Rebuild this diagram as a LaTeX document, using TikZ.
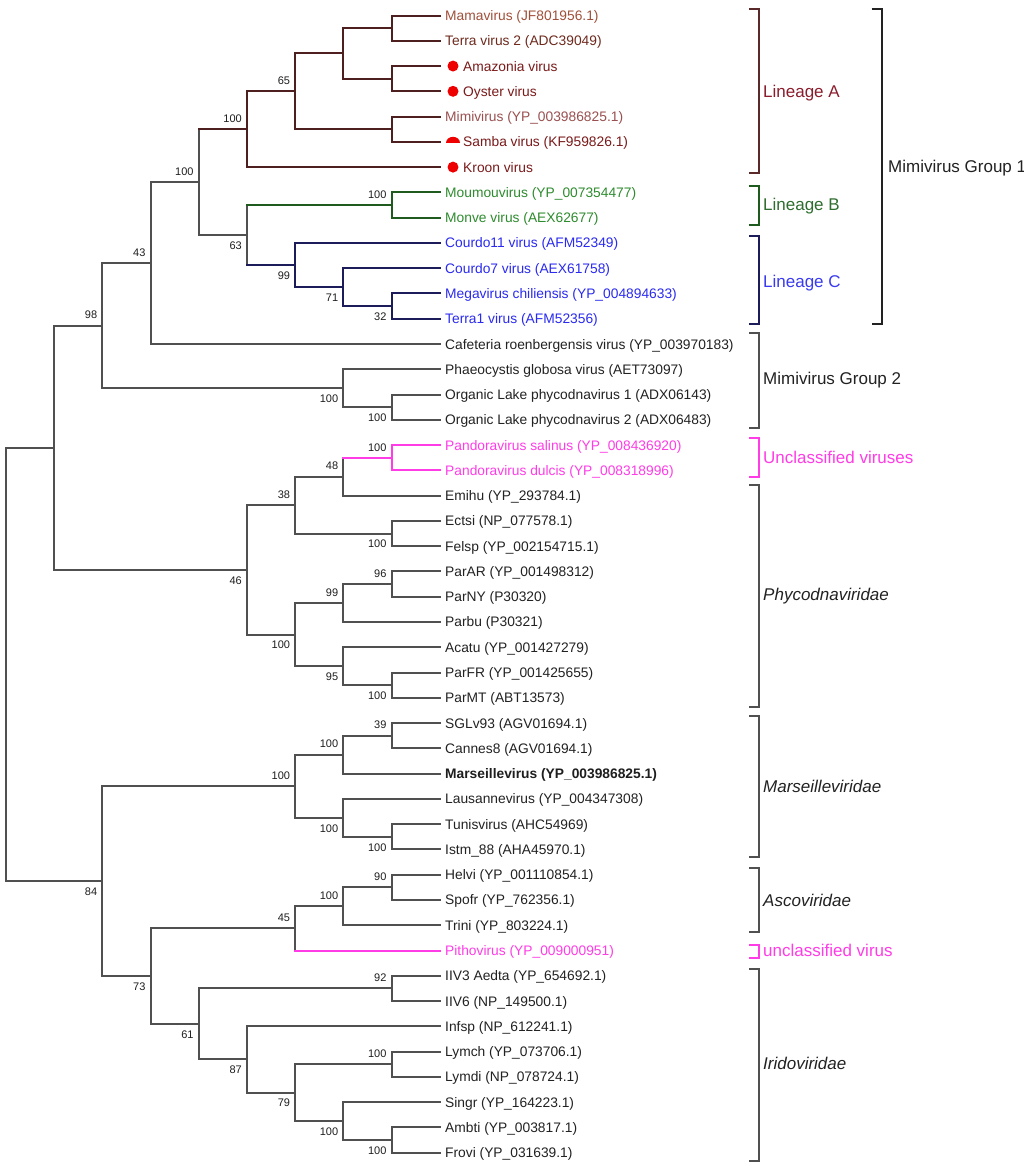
\documentclass[tikz,border=0pt]{standalone}
\usepackage{fontspec}
\setmainfont{Liberation Sans}
\usetikzlibrary{calc}
\definecolor{brA}{HTML}{4D1F1F}
\definecolor{brB}{HTML}{1F5A1F}
\definecolor{brC}{HTML}{1C1C5A}
\definecolor{brG}{HTML}{505050}
\definecolor{pk}{HTML}{FF3CE6}
\definecolor{tMama}{HTML}{A0503A}
\definecolor{tTerra}{HTML}{6E2A1E}
\definecolor{tRed}{HTML}{7A1A1A}
\definecolor{tMimi}{HTML}{9A5050}
\definecolor{tGreen}{HTML}{2E8B2E}
\definecolor{tBlue}{HTML}{2A2AF0}
\definecolor{tBlk}{HTML}{222222}
\definecolor{dotred}{HTML}{EE0000}
\definecolor{labA}{HTML}{8B1C2C}
\definecolor{labB}{HTML}{2E6E2E}
\definecolor{labC}{HTML}{3A3AEE}
\definecolor{bsc}{HTML}{1E1E1E}
\definecolor{brkA}{HTML}{5A2A2A}
\newcommand\leafx[4]{%
  \coordinate (l#1) at (439.8,{15.5+25.27*#1});
  \node[leaf,text=#3] (lab#1) at (#2,{20.5+25.27*#1}) {#4};}
\newcommand\clade[5]{%
  \path let \p1=(#3), \p2=(#4) in coordinate (#1) at (#2pt,{0.5*\y1+0.5*\y2});
  \draw[br,#5] (#3 -| #1) -- (#4 -| #1);}
\newcommand\hb[3]{\draw[br,#3] (#1 -| #2) -- (#1);}
\newcommand\bsa[2]{\node[bs,anchor=east] (bs#1) at ($(#1)+(-5,-10.5)$) {#2};}
\newcommand\bsb[2]{\node[bs,anchor=east] (bs#1) at ($(#1)+(-5,10.5)$) {#2};}
\newcommand\grpbrack[5]{\draw[brk,#5] ({#2-10},#3) coordinate (#1) -- (#2,#3) -- (#2,#4) -- ({#2-10},#4);}
\begin{document}
\begin{tikzpicture}[x=1pt,y=-1pt,
  br/.style={line width=2pt,line cap=rect},
  brk/.style={line width=1.7pt},
  leaf/.style={anchor=base west,inner sep=0pt,font=\fontsize{13.8}{15}\selectfont},
  bs/.style={inner sep=0pt,text=bsc,font=\fontsize{11}{12}\selectfont},
  grp/.style={anchor=base west,inner sep=0pt,font=\fontsize{17}{19}\selectfont}]
\useasboundingbox[fill=white] (0,0) rectangle (1024,1167);
% leaves
\leafx{0}{445}{tMama}{Mamavirus (JF801956.1)}
\leafx{1}{445}{tTerra}{Terra virus 2 (ADC39049)}
\leafx{2}{463}{tRed}{Amazonia virus}
\leafx{3}{463}{tRed}{Oyster virus}
\leafx{4}{445}{tMimi}{Mimivirus (YP\_003986825.1)}
\leafx{5}{463}{tRed}{Samba virus (KF959826.1)}
\leafx{6}{463}{tRed}{Kroon virus}
\leafx{7}{445}{tGreen}{Moumouvirus (YP\_007354477)}
\leafx{8}{445}{tGreen}{Monve virus (AEX62677)}
\leafx{9}{445}{tBlue}{Courdo11 virus (AFM52349)}
\leafx{10}{445}{tBlue}{Courdo7 virus (AEX61758)}
\leafx{11}{445}{tBlue}{Megavirus chiliensis (YP\_004894633)}
\leafx{12}{445}{tBlue}{Terra1 virus (AFM52356)}
\leafx{13}{445}{tBlk}{Cafeteria roenbergensis virus (YP\_003970183)}
\leafx{14}{445}{tBlk}{Phaeocystis globosa virus (AET73097)}
\leafx{15}{445}{tBlk}{Organic Lake phycodnavirus 1 (ADX06143)}
\leafx{16}{445}{tBlk}{Organic Lake phycodnavirus 2 (ADX06483)}
\leafx{17}{445}{pk}{Pandoravirus salinus (YP\_008436920)}
\leafx{18}{445}{pk}{Pandoravirus dulcis (YP\_008318996)}
\leafx{19}{445}{tBlk}{Emihu (YP\_293784.1)}
\leafx{20}{445}{tBlk}{Ectsi (NP\_077578.1)}
\leafx{21}{445}{tBlk}{Felsp (YP\_002154715.1)}
\leafx{22}{445}{tBlk}{ParAR (YP\_001498312)}
\leafx{23}{445}{tBlk}{ParNY (P30320)}
\leafx{24}{445}{tBlk}{Parbu (P30321)}
\leafx{25}{445}{tBlk}{Acatu (YP\_001427279)}
\leafx{26}{445}{tBlk}{ParFR (YP\_001425655)}
\leafx{27}{445}{tBlk}{ParMT (ABT13573)}
\leafx{28}{445}{tBlk}{SGLv93 (AGV01694.1)}
\leafx{29}{445}{tBlk}{Cannes8 (AGV01694.1)}
\leafx{30}{445}{bsc}{\bfseries Marseillevirus (YP\_003986825.1)}
\leafx{31}{445}{tBlk}{Lausannevirus (YP\_004347308)}
\leafx{32}{445}{tBlk}{Tunisvirus (AHC54969)}
\leafx{33}{445}{tBlk}{Istm\_88 (AHA45970.1)}
\leafx{34}{445}{tBlk}{Helvi (YP\_001110854.1)}
\leafx{35}{445}{tBlk}{Spofr (YP\_762356.1)}
\leafx{36}{445}{tBlk}{Trini (YP\_803224.1)}
\leafx{37}{445}{pk}{Pithovirus (YP\_009000951)}
\leafx{38}{445}{tBlk}{IIV3 Aedta (YP\_654692.1)}
\leafx{39}{445}{tBlk}{IIV6 (NP\_149500.1)}
\leafx{40}{445}{tBlk}{Infsp (NP\_612241.1)}
\leafx{41}{445}{tBlk}{Lymch (YP\_073706.1)}
\leafx{42}{445}{tBlk}{Lymdi (NP\_078724.1)}
\leafx{43}{445}{tBlk}{Singr (YP\_164223.1)}
\leafx{44}{445}{tBlk}{Ambti (YP\_003817.1)}
\leafx{45}{445}{tBlk}{Frovi (YP\_031639.1)}
% markers
\fill[dotred] ($(l2)+(13.2,0)$) circle (5.5);
\fill[dotred] ($(l3)+(13.2,0)$) circle (5.5);
\fill[dotred] ($(l6)+(13.2,0)$) circle (5.5);
\fill[dotred] ($(l5)+(6.2,1)$) arc[start angle=180,end angle=360,x radius=7,y radius=6] -- cycle;
% Lineage A
\clade{a1}{391.6}{l0}{l1}{brA} \hb{l0}{a1}{brA} \hb{l1}{a1}{brA}
\clade{a2}{391.6}{l2}{l3}{brA} \hb{l2}{a2}{brA} \hb{l3}{a2}{brA}
\clade{a3}{343.4}{a1}{a2}{brA} \hb{a1}{a3}{brA} \hb{a2}{a3}{brA}
\clade{a4}{391.6}{l4}{l5}{brA} \hb{l4}{a4}{brA} \hb{l5}{a4}{brA}
\clade{a5}{295.2}{a3}{a4}{brA} \hb{a3}{a5}{brA} \hb{a4}{a5}{brA}
\clade{a6}{247}{a5}{l6}{brA} \hb{a5}{a6}{brA} \hb{l6}{a6}{brA}
% Lineage B
\clade{b1}{391.6}{l7}{l8}{brB} \hb{l7}{b1}{brB} \hb{l8}{b1}{brB}
% Lineage C
\clade{c1}{391.6}{l11}{l12}{brC} \hb{l11}{c1}{brC} \hb{l12}{c1}{brC}
\clade{c2}{343.4}{l10}{c1}{brC} \hb{l10}{c2}{brC} \hb{c1}{c2}{brC}
\clade{c3}{295.2}{l9}{c2}{brC} \hb{l9}{c3}{brC} \hb{c2}{c3}{brC}
\clade{bc}{247}{b1}{c3}{brG} \hb{b1}{bc}{brB} \hb{c3}{bc}{brC}
\clade{ga}{198.8}{a6}{bc}{brG} \hb{a6}{ga}{brA} \hb{bc}{ga}{brG}
\clade{g1}{150.6}{ga}{l13}{brG} \hb{ga}{g1}{brG} \hb{l13}{g1}{brG}
% Mimivirus group 2
\clade{g2a}{391.6}{l15}{l16}{brG} \hb{l15}{g2a}{brG} \hb{l16}{g2a}{brG}
\clade{g2}{343.4}{l14}{g2a}{brG} \hb{l14}{g2}{brG} \hb{g2a}{g2}{brG}
\clade{q43}{102.4}{g1}{g2}{brG} \hb{g1}{q43}{brG} \hb{g2}{q43}{brG}
% Phycodnaviridae + Pandora
\clade{p1}{391.6}{l17}{l18}{pk} \hb{l17}{p1}{pk} \hb{l18}{p1}{pk}
\clade{p2}{343.4}{p1}{l19}{brG} \hb{p1}{p2}{pk} \hb{l19}{p2}{brG}
\clade{p3}{391.6}{l20}{l21}{brG} \hb{l20}{p3}{brG} \hb{l21}{p3}{brG}
\clade{q38}{295.2}{p2}{p3}{brG} \hb{p2}{q38}{brG} \hb{p3}{q38}{brG}
\clade{p4}{391.6}{l22}{l23}{brG} \hb{l22}{p4}{brG} \hb{l23}{p4}{brG}
\clade{p5}{343.4}{p4}{l24}{brG} \hb{p4}{p5}{brG} \hb{l24}{p5}{brG}
\clade{p6}{391.6}{l26}{l27}{brG} \hb{l26}{p6}{brG} \hb{l27}{p6}{brG}
\clade{p7}{343.4}{l25}{p6}{brG} \hb{l25}{p7}{brG} \hb{p6}{p7}{brG}
\clade{p8}{295.2}{p5}{p7}{brG} \hb{p5}{p8}{brG} \hb{p7}{p8}{brG}
\clade{q46}{247}{q38}{p8}{brG} \hb{q38}{q46}{brG} \hb{p8}{q46}{brG}
\clade{q98}{54.2}{q43}{q46}{brG} \hb{q43}{q98}{brG} \hb{q46}{q98}{brG}
% Marseilleviridae
\clade{m1}{391.6}{l28}{l29}{brG} \hb{l28}{m1}{brG} \hb{l29}{m1}{brG}
\clade{m2}{343.4}{m1}{l30}{brG} \hb{m1}{m2}{brG} \hb{l30}{m2}{brG}
\clade{m3}{391.6}{l32}{l33}{brG} \hb{l32}{m3}{brG} \hb{l33}{m3}{brG}
\clade{m4}{343.4}{l31}{m3}{brG} \hb{l31}{m4}{brG} \hb{m3}{m4}{brG}
\clade{m5}{295.2}{m2}{m4}{brG} \hb{m2}{m5}{brG} \hb{m4}{m5}{brG}
% Ascoviridae + Pitho
\clade{s1}{391.6}{l34}{l35}{brG} \hb{l34}{s1}{brG} \hb{l35}{s1}{brG}
\clade{s2}{343.4}{s1}{l36}{brG} \hb{s1}{s2}{brG} \hb{l36}{s2}{brG}
\clade{s3}{295.2}{s2}{l37}{brG} \hb{s2}{s3}{brG} \hb{l37}{s3}{pk}
% Iridoviridae
\clade{i1}{391.6}{l38}{l39}{brG} \hb{l38}{i1}{brG} \hb{l39}{i1}{brG}
\clade{i2}{391.6}{l41}{l42}{brG} \hb{l41}{i2}{brG} \hb{l42}{i2}{brG}
\clade{i3}{391.6}{l44}{l45}{brG} \hb{l44}{i3}{brG} \hb{l45}{i3}{brG}
\clade{i4}{343.4}{l43}{i3}{brG} \hb{l43}{i4}{brG} \hb{i3}{i4}{brG}
\clade{i5}{295.2}{i2}{i4}{brG} \hb{i2}{i5}{brG} \hb{i4}{i5}{brG}
\clade{i6}{247}{l40}{i5}{brG} \hb{l40}{i6}{brG} \hb{i5}{i6}{brG}
\clade{i7}{198.8}{i1}{i6}{brG} \hb{i1}{i7}{brG} \hb{i6}{i7}{brG}
\clade{q73}{150.6}{s3}{i7}{brG} \hb{s3}{q73}{brG} \hb{i7}{q73}{brG}
\clade{q84}{102.4}{m5}{q73}{brG} \hb{m5}{q84}{brG} \hb{q73}{q84}{brG}
\clade{root}{6}{q98}{q84}{brG} \hb{q98}{root}{brG} \hb{q84}{root}{brG}
% bootstrap values
\bsa{a5}{65} \bsa{a6}{100} \bsa{ga}{100} \bsa{g1}{43} \bsa{q43}{98}
\bsa{b1}{100} \bsb{bc}{63} \bsb{c3}{99} \bsb{c2}{71} \bsb{c1}{32}
\bsb{g2}{100} \bsb{g2a}{100}
\bsa{p1}{100} \bsa{p2}{48} \bsa{q38}{38} \bsb{p3}{100}
\bsa{p4}{96} \bsa{p5}{99} \bsb{p8}{100} \bsb{p7}{95} \bsb{p6}{100} \bsb{q46}{46}
\bsa{m1}{39} \bsa{m2}{100} \bsa{m5}{100} \bsb{m4}{100} \bsb{m3}{100}
\bsa{s1}{90} \bsa{s2}{100} \bsa{s3}{45}
\bsa{i1}{92} \bsb{i7}{61} \bsb{i6}{87} \bsb{i5}{79} \bsa{i2}{100} \bsb{i4}{100} \bsb{i3}{100}
\bsb{q73}{73} \bsb{q84}{84}
% brackets
\grpbrack{bA}{759.3}{9.3}{173.3}{brkA}
\grpbrack{bB}{759.3}{185.7}{225.3}{brB}
\grpbrack{bC}{759.3}{235.7}{324.3}{brC}
\grpbrack{bG1}{881.7}{9}{324.3}{tBlk}
\grpbrack{bG2}{759.3}{332.7}{427.7}{brG}
\grpbrack{bU}{759.3}{438.3}{476.7}{pk}
\grpbrack{bP}{759.3}{485}{706.7}{brG}
\grpbrack{bM}{759.3}{716}{856.7}{brG}
\grpbrack{bAs}{759.3}{868.3}{931.7}{brG}
\grpbrack{bU2}{759.3}{945}{958.3}{pk}
\grpbrack{bI}{759.3}{969.3}{1161}{brG}
% group labels
\node[grp,text=labA] (gA) at (763,97.8) {Lineage A};
\node[grp,text=labB] (gB) at (763,210.1) {Lineage B};
\node[grp,text=labC] (gC) at (763,287.1) {Lineage C};
\node[grp,text=tBlk] (gG1) at (888,172.8) {Mimivirus Group 1};
\node[grp,text=tBlk] (gG2) at (763,384.1) {Mimivirus Group 2};
\node[grp,text=pk] (gU) at (763,463.1) {Unclassified viruses};
\node[grp,text=tBlk] (gP) at (763,600.1) {\itshape Phycodnaviridae};
\node[grp,text=tBlk] (gM) at (763,792.1) {\itshape Marseilleviridae};
\node[grp,text=tBlk] (gAs) at (763,906.1) {\itshape Ascoviridae};
\node[grp,text=pk] (gU2) at (763,956.1) {unclassified virus};
\node[grp,text=tBlk] (gI) at (763,1069.1) {\itshape Iridoviridae};
\end{tikzpicture}
\end{document}
